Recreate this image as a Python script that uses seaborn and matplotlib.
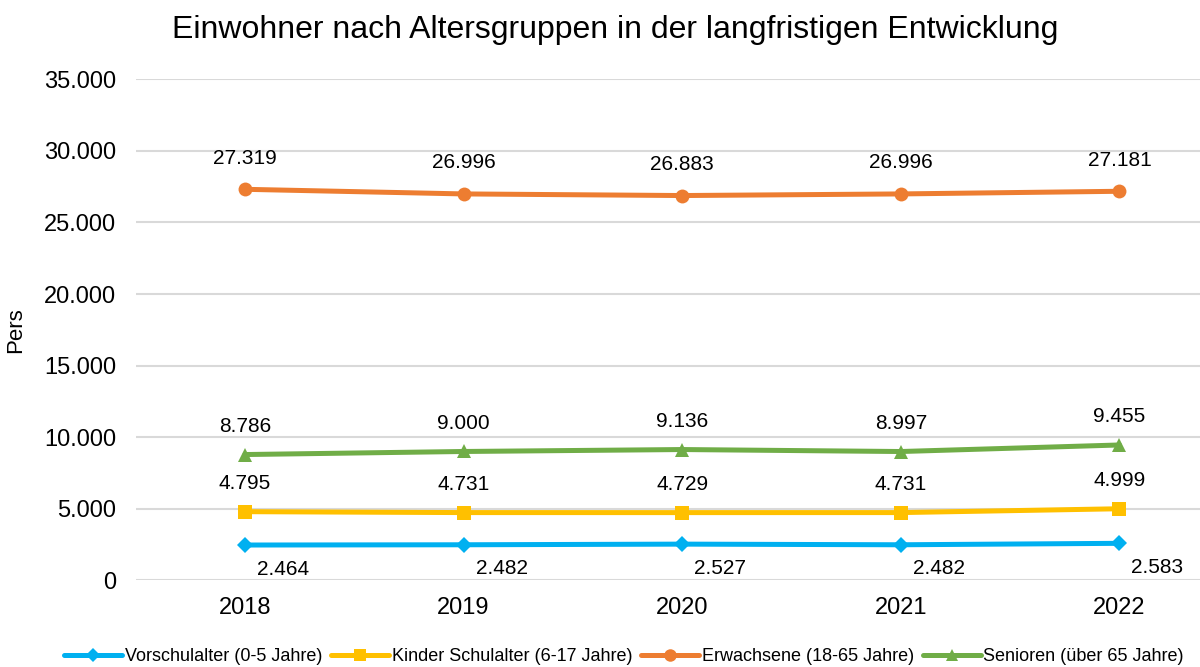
import matplotlib
matplotlib.use("Agg")
import matplotlib.pyplot as plt
import seaborn as sns
import pandas as pd
from matplotlib.ticker import FuncFormatter

years = ["2018", "2019", "2020", "2021", "2022"]
vorschule = [2464, 2482, 2527, 2482, 2583]
schulkinder = [4795, 4731, 4729, 4731, 4999]
erwachsene = [27319, 26996, 26883, 26996, 27181]
senioren = [8786, 9000, 9136, 8997, 9455]

groups = ["Vorschulalter (0-5 Jahre)", "Kinder Schulalter (6-17 Jahre)",
          "Erwachsene (18-65 Jahre)", "Senioren (über 65 Jahre)"]
series = [vorschule, schulkinder, erwachsene, senioren]
colors = ["#00B0F0", "#FFC000", "#ED7D31", "#70AD47"]
markers = ["D", "s", "o", "^"]
msizes = [8, 10, 10, 10]

rows = []
for g, vals in zip(groups, series):
    for i, v in enumerate(vals):
        rows.append({"Jahr": i, "Gruppe": g, "Pers": v})
df = pd.DataFrame(rows)

sns.set_theme(style="white")
plt.rcParams["font.family"] = ["Liberation Sans", "DejaVu Sans"]
plt.rcParams["text.color"] = "#000000"
plt.rcParams["axes.labelcolor"] = "#000000"

fig = plt.figure(figsize=(12, 6.67), dpi=100)
ax = fig.add_axes([0.113, 0.13, 0.911, 0.751])

sns.lineplot(data=df, x="Jahr", y="Pers", hue="Gruppe",
             hue_order=groups, palette=dict(zip(groups, colors)),
             linewidth=3.6, ax=ax, legend=False, zorder=3)
for line, m, ms in zip(ax.get_lines(), markers, msizes):
    line.set_marker(m)
    line.set_markersize(ms)
    line.set_markeredgewidth(0)

def fmt(v):
    return f"{v:,.0f}".replace(",", ".")

offsets = {groups[0]: (38, -24), groups[1]: (0, 28), groups[2]: (0, 31), groups[3]: (0, 28)}
for g, vals in zip(groups, series):
    dx, dy = offsets[g]
    for i, v in enumerate(vals):
        ax.annotate(fmt(v), (i, v), xytext=(dx, dy), textcoords="offset pixels",
                    ha="center", va="center", fontsize=15, color="#000000")

ax.set_xlim(-0.5, 4.5)
ax.set_ylim(0, 35000)
ax.set_yticks(range(0, 35001, 5000))
ax.yaxis.set_major_formatter(FuncFormatter(lambda v, p: fmt(v)))
ax.set_xticks(range(len(years)))
ax.set_xticklabels(years)
ax.tick_params(axis="both", labelsize=17, length=0, colors="#000000")
ax.tick_params(axis="x", pad=12)
ax.tick_params(axis="y", pad=14)
ax.grid(axis="y", color="#D9D9D9", linewidth=1.5)
ax.set_axisbelow(True)
for s in ax.spines.values():
    s.set_visible(False)
ax.set_xlabel("")
ax.set_ylabel("Pers", fontsize=16, color="#000000")
ax.yaxis.set_label_coords(-0.1, 0.5)

fig.suptitle("Einwohner nach Altersgruppen in der langfristigen Entwicklung",
             fontsize=23, x=0.513, y=0.978, va="top", color="#000000")

handles = [plt.Line2D([], [], color=c, marker=m, linewidth=3.6, markersize=ms - 1,
                      markeredgewidth=0) for c, m, ms in zip(colors, markers, msizes)]
fig.legend(handles, groups, loc="lower center", ncol=4, frameon=False,
           bbox_to_anchor=(0.52, -0.022), handlelength=3.2, handletextpad=0.15,
           columnspacing=0.5, prop={"size": 13})

fig.savefig("out.png", dpi=100)
